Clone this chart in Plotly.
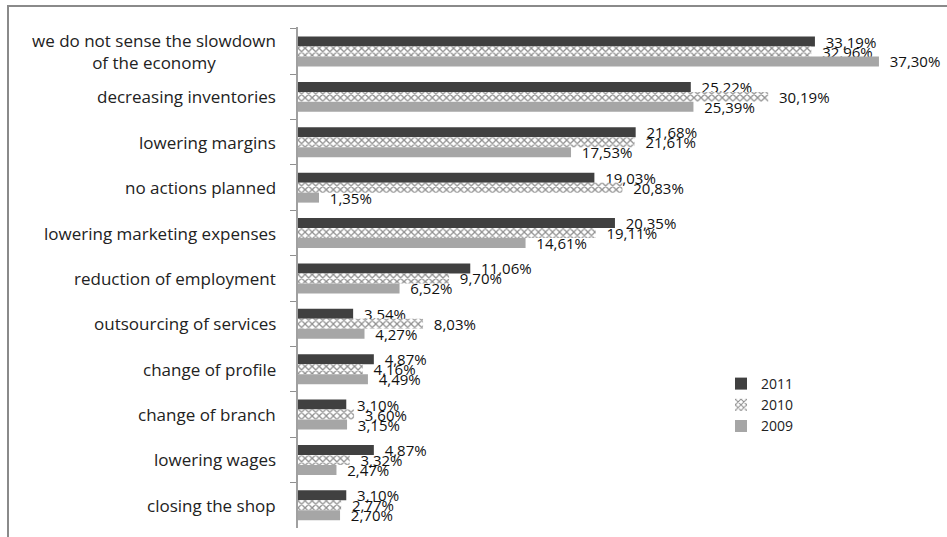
import plotly.graph_objects as go

categories = [
    "we do not sense the slowdown<br>of the economy",
    "decreasing inventories",
    "lowering margins",
    "no actions planned",
    "lowering marketing expenses",
    "reduction of employment",
    "outsourcing of services",
    "change of profile",
    "change of branch",
    "lowering wages",
    "closing the shop",
]
v2011 = [33.19, 25.22, 21.68, 19.03, 20.35, 11.06, 3.54, 4.87, 3.10, 4.87, 3.10]
v2010 = [32.96, 30.19, 21.61, 20.83, 19.11, 9.70, 8.03, 4.16, 3.60, 3.32, 2.77]
v2009 = [37.30, 25.39, 17.53, 1.35, 14.61, 6.52, 4.27, 4.49, 3.15, 2.47, 2.70]

W, H = 947, 537
L, R, T, B = 298, 26, 27, 9
pw, ph = W - L - R, H - T - B

font_family = "Open Sans, Liberation Sans, sans-serif"

fig = go.Figure()
common = dict(
    orientation="h",
    texttemplate="\u00a0\u00a0%{x:.2f}%",
    textposition="outside",
    constraintext="none",
    cliponaxis=False,
    textfont=dict(size=15, color="#111", family=font_family),
    hoverinfo="skip",
)
fig.add_trace(go.Bar(name="2011", y=categories, x=v2011,
                     marker=dict(color="#404040", line=dict(width=0)), **common))
fig.add_trace(go.Bar(name="2010", y=categories, x=v2010,
                     marker=dict(color="white", line=dict(width=0),
                                 pattern=dict(shape="x", size=5, solidity=0.45,
                                              fgcolor="#202020", bgcolor="white")),
                     **common))
fig.add_trace(go.Bar(name="2009", y=categories, x=v2009,
                     marker=dict(color="#a6a6a6", line=dict(width=0)), **common))

annotations = [
    dict(text=c, xref="paper", x=-20 / pw, xanchor="right", yref="y", y=c,
         yanchor="middle", align="center", showarrow=False,
         font=dict(size=17, color="#222", family=font_family))
    for c in categories
]

fig.update_layout(
    width=W, height=H,
    margin=dict(l=L, r=R, t=T, b=B, pad=0),
    paper_bgcolor="white", plot_bgcolor="white",
    barmode="group", bargap=0.34, bargroupgap=0,
    separators=", ",
    font=dict(family=font_family, color="#222"),
    xaxis=dict(range=[0, 40], visible=False, fixedrange=True),
    yaxis=dict(autorange="reversed", showticklabels=False, ticks="outside",
               tickson="boundaries", ticklen=6, tickcolor="#909090", tickwidth=1,
               showline=True, linecolor="#a0a0a0", linewidth=2,
               showgrid=False, zeroline=False, fixedrange=True),
    legend=dict(x=(721 - L) / pw, y=(H - B - 368) / ph, xanchor="left", yanchor="top",
                font=dict(size=14, color="#222", family=font_family),
                itemwidth=30, tracegroupgap=0, bgcolor="rgba(0,0,0,0)"),
    annotations=annotations,
    shapes=[dict(type="rect", xref="paper", yref="paper",
                 x0=(8 - L) / pw, x1=(W + 20 - L) / pw,
                 y0=-(B + 20) / ph, y1=(H - B - 6) / ph,
                 line=dict(color="#8a8a8a", width=2), fillcolor="rgba(0,0,0,0)")],
    showlegend=True,
)

fig.write_html("out.html", config={"displayModeBar": False},
               post_script="document.body.style.margin='0';")
